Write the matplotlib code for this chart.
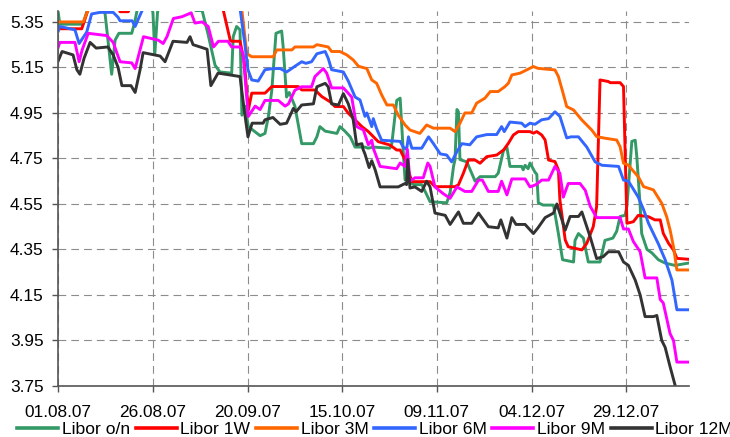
import matplotlib
matplotlib.use("Agg")
import matplotlib.pyplot as plt
import matplotlib.dates as mdates
from matplotlib.lines import Line2D
import numpy as np
import datetime as dt

plt.rcParams['font.family'] = ['Liberation Sans', 'DejaVu Sans']

start = dt.datetime(2007, 8, 1)

# (days since 01.08.07, rate %)
libor_on = [(0,5.39),(0.4,5.34),(6.5,5.34),(8.0,5.42),(11.5,5.42),(12.3,5.395),(14.1,5.12),(15.0,5.27),(16.0,5.30),(19.4,5.30),(20.2,5.35),(20.8,5.40),(21.5,5.45),(24.3,5.45),(25.0,5.39),(25.5,5.21),(26.2,5.39),(26.8,5.45),(35.5,5.45),(36.3,5.40),(38.0,5.40),(38.8,5.345),(39.5,5.30),(41.4,5.16),(42.7,5.13),(45.8,5.125),(46.2,5.285),(47.1,5.33),(48.0,5.315),(48.5,4.94),(49.3,4.98),(50.2,4.89),(53.3,4.85),(54.6,4.86),(55.5,4.935),(56.4,5.05),(57.5,5.30),(59.0,5.31),(59.4,5.24),(60.3,5.02),(61.0,5.04),(62.5,4.98),(64.3,4.815),(67.4,4.815),(68.3,4.845),(69.1,4.89),(70.5,4.87),(73.6,4.86),(74.4,4.89),(75.7,4.87),(77.1,4.845),(78.4,4.80),(81.0,4.80),(81.8,4.795),(83.2,4.80),(87.6,4.795),(88.1,4.815),(89.4,5.005),(90.3,5.015),(91.1,4.785),(91.6,4.655),(92.5,4.655),(93.8,4.635),(96.0,4.635),(96.9,4.605),(98.2,4.56),(102.6,4.555),(103.5,4.60),(104.4,4.715),(104.8,4.745),(105.3,4.965),(105.7,4.955),(106.1,4.745),(107.9,4.735),(109.2,4.685),(110.1,4.65),(111.4,4.67),(115.4,4.67),(116.2,4.685),(117.6,4.785),(118.5,4.80),(119.3,4.715),(122.4,4.715),(122.8,4.70),(123.3,4.72),(124.1,4.705),(124.6,4.73),(125.9,4.69),(126.4,4.68),(126.8,4.555),(128.1,4.545),(130.8,4.545),(132.1,4.42),(133.2,4.305),(136.1,4.295),(136.5,4.39),(137.4,4.42),(138.7,4.40),(140.0,4.295),(143.1,4.295),(144.4,4.39),(146.5,4.40),(147.5,4.43),(148.4,4.495),(149.7,4.50),(150.2,4.54),(151.5,4.825),(152.4,4.83),(152.8,4.76),(153.7,4.54),(154.1,4.42),(155.5,4.35),(156.8,4.335),(158.5,4.305),(160.3,4.29),(162.9,4.28),(166.4,4.29)]

libor_1w = [(0,5.32),(6.2,5.32),(7.8,5.40),(8.4,5.45),(15.5,5.45),(16.3,5.395),(18.5,5.395),(19.5,5.45),(43.0,5.45),(43.6,5.40),(45.4,5.27),(45.8,5.265),(48.0,5.265),(49.1,5.18),(50.2,4.963),(51.1,5.037),(54.6,5.037),(56.4,5.066),(63.4,5.066),(64.3,5.051),(67.8,5.051),(69.6,5.022),(71.8,4.999),(73.1,4.978),(75.3,4.978),(76.6,4.949),(78.4,4.919),(80.2,4.89),(81.9,4.868),(83.2,4.846),(84.5,4.824),(87.6,4.809),(89.4,4.787),(90.3,4.787),(91.6,4.743),(93.4,4.648),(98.2,4.648),(99.5,4.626),(104.8,4.626),(105.7,4.634),(107.0,4.685),(108.3,4.743),(110.1,4.743),(111.4,4.729),(113.2,4.758),(115.8,4.765),(117.6,4.787),(118.9,4.817),(120.2,4.853),(121.5,4.868),(124.6,4.868),(125.5,4.861),(126.4,4.868),(127.7,4.853),(128.6,4.831),(129.5,4.743),(131.2,4.736),(132.1,4.70),(132.5,4.568),(133.9,4.392),(134.7,4.362),(138.3,4.348),(139.6,4.377),(141.3,4.45),(142.2,4.538),(143.1,5.095),(145.3,5.088),(145.8,5.083),(148.4,5.083),(149.3,5.066),(150.2,4.465),(151.9,4.472),(153.2,4.50),(155.9,4.494),(157.6,4.48),(159.0,4.48),(159.8,4.421),(161.2,4.377),(162.5,4.348),(163.4,4.311),(166.4,4.307)]

libor_3m = [(0,5.35),(6.6,5.35),(7.8,5.40),(8.4,5.45),(47.5,5.45),(48.5,5.40),(49.8,5.21),(51.1,5.197),(56.8,5.197),(57.7,5.227),(61.7,5.227),(62.5,5.24),(67.4,5.24),(68.3,5.25),(71.3,5.24),(72.2,5.22),(74.4,5.22),(76.2,5.205),(77.9,5.183),(79.3,5.155),(81.5,5.145),(82.8,5.095),(84.1,5.08),(85.4,5.03),(86.8,4.985),(88.5,4.985),(89.8,4.94),(91.6,4.897),(92.9,4.875),(95.5,4.86),(97.3,4.897),(99.1,4.883),(103.5,4.883),(104.8,4.868),(106.1,4.905),(107.4,4.95),(109.2,4.95),(110.5,4.993),(112.7,5.015),(114.1,5.044),(116.2,5.044),(118.0,5.066),(118.9,5.081),(119.8,5.117),(122.0,5.125),(123.7,5.139),(125.5,5.154),(126.7,5.146),(131.2,5.139),(132.1,5.11),(133.1,5.051),(134.3,4.978),(136.1,4.963),(138.3,4.919),(140.9,4.875),(142.2,4.846),(144.4,4.839),(147.5,4.831),(148.4,4.802),(149.3,4.729),(150.6,4.721),(151.6,4.70),(153.2,4.67),(154.6,4.626),(157.2,4.612),(159.4,4.553),(160.7,4.494),(161.6,4.436),(162.5,4.362),(163.4,4.26),(166.4,4.26)]

libor_6m = [(0,5.31),(0.4,5.33),(4.4,5.315),(5.5,5.255),(7.5,5.305),(8.8,5.385),(11.0,5.392),(14.5,5.392),(15.8,5.37),(16.3,5.355),(19.5,5.355),(20.3,5.33),(21.6,5.38),(22.4,5.41),(23.0,5.45),(46.5,5.45),(48.0,5.41),(49.3,5.25),(50.1,5.14),(51.1,5.095),(52.8,5.09),(54.6,5.14),(56.8,5.145),(58.6,5.145),(60.3,5.13),(62.5,5.155),(64.3,5.175),(65.4,5.168),(66.9,5.175),(68.3,5.21),(70.5,5.22),(71.3,5.19),(72.2,5.14),(75.3,5.13),(76.6,5.09),(78.4,5.02),(79.7,5.007),(81.0,4.935),(81.5,4.95),(82.8,4.89),(83.2,4.925),(84.1,4.88),(85.4,4.83),(90.3,4.825),(91.1,4.80),(92.0,4.79),(92.5,4.845),(93.4,4.795),(96.0,4.795),(97.8,4.845),(99.1,4.815),(100.9,4.77),(102.6,4.765),(103.9,4.735),(105.3,4.78),(106.6,4.815),(108.7,4.81),(110.5,4.845),(113.2,4.855),(115.8,4.855),(117.1,4.89),(117.8,4.868),(119.3,4.91),(122.4,4.905),(123.3,4.89),(124.6,4.905),(125.9,4.90),(127.7,4.92),(129.5,4.925),(131.2,4.955),(132.5,4.935),(134.3,4.84),(135.4,4.845),(137.4,4.845),(139.6,4.80),(141.8,4.735),(143.6,4.72),(148.0,4.715),(149.3,4.655),(150.6,4.65),(153.2,4.58),(154.6,4.525),(155.9,4.465),(158.5,4.375),(160.3,4.305),(162.1,4.215),(163.4,4.085),(166.4,4.085)]

libor_9m = [(0,5.24),(0.4,5.26),(4.4,5.26),(5.5,5.175),(6.3,5.227),(7.9,5.30),(12.8,5.29),(14.5,5.26),(16.3,5.175),(19.4,5.17),(20.3,5.145),(22.5,5.285),(26.4,5.27),(27.7,5.255),(28.7,5.285),(30.4,5.365),(32.7,5.373),(35.1,5.39),(36.1,5.345),(38.0,5.35),(39.6,5.33),(41.0,5.24),(42.3,5.265),(44.8,5.265),(45.8,5.24),(48.0,5.24),(48.8,5.21),(50.2,4.935),(52.0,4.98),(53.3,4.965),(54.6,5.005),(58.1,5.005),(59.9,4.98),(60.8,4.99),(62.5,5.05),(64.3,5.065),(66.9,5.065),(67.8,5.11),(70.0,5.145),(70.9,5.125),(72.2,5.06),(75.3,5.06),(77.5,5.02),(78.8,4.89),(80.6,4.875),(81.9,4.81),(82.8,4.83),(83.2,4.795),(85.0,4.715),(89.4,4.705),(90.3,4.73),(91.6,4.715),(92.2,4.79),(92.9,4.65),(94.2,4.665),(96.4,4.665),(97.6,4.73),(98.2,4.715),(99.5,4.625),(101.7,4.595),(103.5,4.575),(105.3,4.625),(107.4,4.605),(109.2,4.605),(111.0,4.655),(112.0,4.655),(113.6,4.605),(116.2,4.605),(117.1,4.65),(118.5,4.59),(119.8,4.66),(123.3,4.66),(124.6,4.625),(126.2,4.635),(127.7,4.655),(129.5,4.655),(131.2,4.715),(132.5,4.685),(133.4,4.58),(134.7,4.64),(137.8,4.64),(139.2,4.61),(140.5,4.54),(142.2,4.49),(147.1,4.49),(148.4,4.49),(149.3,4.44),(150.6,4.44),(151.9,4.385),(153.7,4.34),(155.0,4.225),(158.1,4.225),(159.0,4.13),(159.8,4.115),(161.6,3.98),(162.5,3.95),(163.4,3.855),(166.4,3.855)]

libor_12m = [(0,5.18),(1.0,5.22),(3.9,5.205),(4.9,5.14),(5.7,5.12),(6.8,5.19),(8.4,5.26),(10.0,5.235),(13.1,5.24),(14.5,5.205),(15.8,5.15),(16.8,5.07),(19.2,5.07),(20.3,5.04),(21.6,5.14),(22.4,5.215),(26.9,5.20),(28.2,5.175),(30.3,5.265),(34.0,5.26),(34.8,5.285),(35.6,5.25),(39.3,5.23),(40.3,5.07),(42.2,5.125),(48.0,5.11),(49.1,4.965),(50.1,4.845),(51.2,4.905),(54.1,4.905),(54.6,4.92),(56.7,4.93),(58.6,4.90),(60.3,4.905),(62.1,4.97),(62.8,4.955),(64.3,4.985),(67.4,4.99),(68.3,5.065),(70.5,5.08),(71.3,5.065),(72.2,4.99),(74.0,4.985),(75.3,5.035),(76.6,4.99),(77.9,4.92),(78.8,4.81),(80.2,4.815),(80.5,4.79),(81.0,4.77),(82.1,4.71),(82.8,4.74),(83.7,4.70),(85.0,4.625),(89.8,4.625),(91.6,4.64),(92.0,4.635),(92.3,4.745),(92.9,4.62),(94.2,4.625),(96.0,4.605),(97.3,4.65),(98.2,4.625),(99.5,4.51),(102.2,4.50),(103.5,4.46),(105.7,4.515),(107.0,4.465),(109.2,4.465),(111.0,4.51),(113.6,4.45),(116.2,4.445),(116.9,4.48),(118.5,4.40),(119.8,4.49),(120.9,4.46),(123.3,4.46),(125.5,4.42),(126.7,4.445),(128.6,4.49),(130.8,4.51),(131.7,4.55),(133.9,4.435),(135.2,4.495),(137.4,4.495),(138.3,4.515),(140.5,4.405),(142.2,4.31),(143.9,4.318),(145.3,4.34),(148.0,4.34),(149.3,4.295),(150.6,4.28),(152.4,4.215),(153.7,4.15),(155.0,4.055),(157.2,4.055),(158.1,4.06),(159.4,3.95),(160.3,3.92),(161.6,3.835),(162.9,3.755),(163.6,3.70),(166.4,3.62)]

labels = ["Libor o/n", "Libor 1W", "Libor 3M", "Libor 6M", "Libor 9M", "Libor 12M"]
series = [libor_on, libor_1w, libor_3m, libor_6m, libor_9m, libor_12m]
colors = ["#339966", "#FF0000", "#FF6600", "#3366FF", "#FF00FF", "#333333"]

y_ticks = [3.75, 3.95, 4.15, 4.35, 4.55, 4.75, 4.95, 5.15, 5.35]
x_tick_days = [0, 25, 50, 75, 100, 125, 150]

W, H = 730, 437
fig = plt.figure(figsize=(W/100, H/100), dpi=100)
ax = fig.add_axes([58.3/W, 1-386/H, (689-58.3)/W, (386-11)/H])

for data, c, lab in zip(series, colors, labels):
    d = np.array(data)
    xs = [start + dt.timedelta(days=float(v)) for v in d[:, 0]]
    ax.plot(xs, d[:, 1], color=c, lw=2.1, label=lab, solid_joinstyle='round')

ax.set_ylim(3.75, 5.398)
ax.set_xlim(start, start + dt.timedelta(days=166.6))
ax.set_yticks(y_ticks)
ax.set_yticklabels([f"{v:.2f}" for v in y_ticks])
ax.set_xticks([start + dt.timedelta(days=d) for d in x_tick_days])
ax.xaxis.set_major_formatter(mdates.DateFormatter('%d.%m.%y'))

ax.grid(True, color='#8c8c8c', lw=0.8, linestyle=(0, (7, 4.5)))
ax.set_axisbelow(True)
for s in ['top', 'right']:
    ax.spines[s].set_visible(False)
for s in ['left', 'bottom']:
    ax.spines[s].set_color('#555555')
    ax.spines[s].set_linewidth(1.2)
ax.tick_params(axis='both', direction='out', length=4, width=1.0, color='#555555',
               labelsize=12.4, labelcolor='black')
ax.tick_params(axis='y', pad=6.5)
ax.tick_params(axis='x', pad=9.5)

handles = [Line2D([0], [0], color=c, lw=2.6) for c in colors]
fig.legend(handles, labels, loc='center left', bbox_to_anchor=(17/W, 1-429.5/H),
           ncol=6, frameon=False, fontsize=12.6, handlelength=2.35,
           handletextpad=0.2, columnspacing=0.33, borderaxespad=0, borderpad=0)

fig.savefig("out.png", dpi=100)
